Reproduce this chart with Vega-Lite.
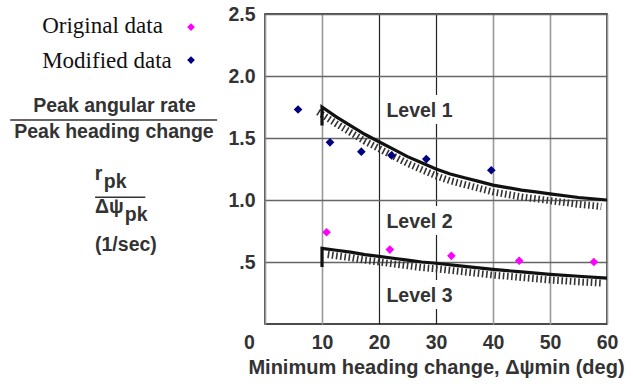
{
  "$schema": "https://vega.github.io/schema/vega-lite/v6.json",
  "width": 342,
  "height": 310,
  "autosize": {"type": "none"},
  "padding": {"left": 265, "top": 14, "right": 26, "bottom": 68},
  "background": "white",
  "config": {
    "view": {"stroke": "#111", "strokeWidth": 1.5},
    "font": "Liberation Sans"
  },
  "datasets": {
    "points": [
      {"series": "Modified data", "x": 5.8, "y": 1.73},
      {"series": "Modified data", "x": 11.4, "y": 1.465},
      {"series": "Modified data", "x": 16.9, "y": 1.39},
      {"series": "Modified data", "x": 22.2, "y": 1.36},
      {"series": "Modified data", "x": 28.3, "y": 1.33},
      {"series": "Modified data", "x": 39.7, "y": 1.24},
      {"series": "Original data", "x": 10.8, "y": 0.74},
      {"series": "Original data", "x": 21.9, "y": 0.60},
      {"series": "Original data", "x": 32.7, "y": 0.55},
      {"series": "Original data", "x": 44.6, "y": 0.51},
      {"series": "Original data", "x": 57.7, "y": 0.50}
    ],
    "key": [
      {"series": "Original data", "x": -12.98, "y": 2.395, "tx": -39.1, "ty": 2.347},
      {"series": "Modified data", "x": -12.98, "y": 2.129, "tx": -39.1, "ty": 2.065}
    ],
    "bounds": [
      {"b": "L1", "i": 0, "x": 10, "y": 1.6},
      {"b": "L1", "i": 1, "x": 10, "y": 1.75},
      {"b": "L1", "i": 2, "x": 12.5, "y": 1.67},
      {"b": "L1", "i": 3, "x": 15, "y": 1.6},
      {"b": "L1", "i": 4, "x": 17.5, "y": 1.53},
      {"b": "L1", "i": 5, "x": 20, "y": 1.47},
      {"b": "L1", "i": 6, "x": 22.5, "y": 1.41},
      {"b": "L1", "i": 7, "x": 25, "y": 1.35},
      {"b": "L1", "i": 8, "x": 27.5, "y": 1.3},
      {"b": "L1", "i": 9, "x": 30, "y": 1.25},
      {"b": "L1", "i": 10, "x": 32.5, "y": 1.21},
      {"b": "L1", "i": 11, "x": 35, "y": 1.18},
      {"b": "L1", "i": 12, "x": 37.5, "y": 1.15},
      {"b": "L1", "i": 13, "x": 40, "y": 1.12},
      {"b": "L1", "i": 14, "x": 42.5, "y": 1.1},
      {"b": "L1", "i": 15, "x": 45, "y": 1.08},
      {"b": "L1", "i": 16, "x": 47.5, "y": 1.065},
      {"b": "L1", "i": 17, "x": 50, "y": 1.05},
      {"b": "L1", "i": 18, "x": 55, "y": 1.02},
      {"b": "L1", "i": 19, "x": 60, "y": 1.0},
      {"b": "L2", "i": 0, "x": 10, "y": 0.46},
      {"b": "L2", "i": 1, "x": 10, "y": 0.61},
      {"b": "L2", "i": 2, "x": 12.5, "y": 0.595},
      {"b": "L2", "i": 3, "x": 15, "y": 0.58},
      {"b": "L2", "i": 4, "x": 17.5, "y": 0.56},
      {"b": "L2", "i": 5, "x": 20, "y": 0.545},
      {"b": "L2", "i": 6, "x": 22.5, "y": 0.53},
      {"b": "L2", "i": 7, "x": 25, "y": 0.515},
      {"b": "L2", "i": 8, "x": 27.5, "y": 0.5},
      {"b": "L2", "i": 9, "x": 30, "y": 0.49},
      {"b": "L2", "i": 10, "x": 35, "y": 0.465},
      {"b": "L2", "i": 11, "x": 40, "y": 0.44},
      {"b": "L2", "i": 12, "x": 45, "y": 0.42},
      {"b": "L2", "i": 13, "x": 50, "y": 0.4},
      {"b": "L2", "i": 14, "x": 55, "y": 0.385},
      {"b": "L2", "i": 15, "x": 60, "y": 0.37}
    ],
    "hatch": [
      {"b": "H1", "x": 9.3, "y": 1.71},
      {"b": "H1", "x": 10, "y": 1.69},
      {"b": "H1", "x": 12.5, "y": 1.615},
      {"b": "H1", "x": 15, "y": 1.545},
      {"b": "H1", "x": 17.5, "y": 1.475},
      {"b": "H1", "x": 20, "y": 1.415},
      {"b": "H1", "x": 22.5, "y": 1.355},
      {"b": "H1", "x": 25, "y": 1.295},
      {"b": "H1", "x": 27.5, "y": 1.245},
      {"b": "H1", "x": 30, "y": 1.195},
      {"b": "H1", "x": 32.5, "y": 1.155},
      {"b": "H1", "x": 35, "y": 1.125},
      {"b": "H1", "x": 37.5, "y": 1.095},
      {"b": "H1", "x": 40, "y": 1.065},
      {"b": "H1", "x": 42.5, "y": 1.045},
      {"b": "H1", "x": 45, "y": 1.025},
      {"b": "H1", "x": 47.5, "y": 1.01},
      {"b": "H1", "x": 50, "y": 0.995},
      {"b": "H1", "x": 55, "y": 0.965},
      {"b": "H1", "x": 59, "y": 0.948},
      {"b": "H2", "x": 11, "y": 0.56},
      {"b": "H2", "x": 12.5, "y": 0.55},
      {"b": "H2", "x": 15, "y": 0.535},
      {"b": "H2", "x": 17.5, "y": 0.515},
      {"b": "H2", "x": 20, "y": 0.5},
      {"b": "H2", "x": 22.5, "y": 0.485},
      {"b": "H2", "x": 25, "y": 0.47},
      {"b": "H2", "x": 27.5, "y": 0.455},
      {"b": "H2", "x": 30, "y": 0.445},
      {"b": "H2", "x": 35, "y": 0.42},
      {"b": "H2", "x": 40, "y": 0.395},
      {"b": "H2", "x": 45, "y": 0.375},
      {"b": "H2", "x": 50, "y": 0.355},
      {"b": "H2", "x": 55, "y": 0.34},
      {"b": "H2", "x": 59, "y": 0.33}
    ],
    "levels": [
      {"x": 27.1, "y": 1.667, "label": "Level 1"},
      {"x": 27.1, "y": 0.772, "label": "Level 2"},
      {"x": 27.1, "y": 0.18, "label": "Level 3"}
    ],
    "side": [
      {"x": -26.4, "y": 1.71, "label": "Peak angular rate"},
      {"x": -26.5, "y": 1.5, "label": "Peak heading change"},
      {"x": -29.2, "y": 1.161, "label": "r"},
      {"x": -26.3, "y": 1.097, "label": "pk"},
      {"x": -27.3, "y": 0.895, "label": "Δψ"},
      {"x": -22.6, "y": 0.827, "label": "pk"},
      {"x": -24.4, "y": 0.589, "label": "(1/sec)"}
    ],
    "bars": [
      {"x": -44.7, "x2": -8.4, "y": 1.645},
      {"x": -29.8, "x2": -21.0, "y": 1.022}
    ]
  },
  "encoding": {
    "x": {
      "field": "x",
      "type": "quantitative",
      "scale": {"domain": [0, 60], "nice": false, "zero": false},
      "axis": {
        "values": [0, 10, 20, 30, 40, 50, 60],
        "title": "Minimum heading change, Δψmin (deg)",
        "titleFont": "Liberation Sans",
        "titleFontSize": 20,
        "titleFontWeight": "bold",
        "titleColor": "#333",
        "titlePadding": 6,
        "labelFont": "Liberation Sans",
        "labelFontSize": 19.5,
        "labelFontWeight": "bold",
        "labelColor": "#333",
        "labelPadding": 9,
        "labelFlush": false,
        "labelOffset": {"condition": {"test": "datum.value === 0", "value": -16}, "value": 0},
        "ticks": false,
        "tickSize": 0,
        "domain": false,
        "grid": true,
        "gridColor": {"condition": {"test": "datum.value === 20 || datum.value === 30", "value": "#222"}, "value": "#999"},
        "gridWidth": {"condition": {"test": "datum.value === 20 || datum.value === 30", "value": 1.2}, "value": 1.6},
        "gridOpacity": 1
      }
    },
    "y": {
      "field": "y",
      "type": "quantitative",
      "scale": {"domain": [0, 2.5], "nice": false, "zero": false},
      "axis": {
        "values": [0.5, 1, 1.5, 2, 2.5],
        "labelExpr": "datum.value === 0.5 ? '.5' : format(datum.value, '.1f')",
        "title": null,
        "labelFont": "Liberation Sans",
        "labelFontSize": 19.5,
        "labelFontWeight": "bold",
        "labelColor": "#333",
        "labelPadding": 10,
        "ticks": false,
        "tickSize": 0,
        "domain": false,
        "grid": true,
        "gridColor": "#666",
        "gridWidth": 1.4,
        "gridOpacity": 1
      }
    }
  },
  "layer": [
    {
      "data": {"name": "bars"},
      "mark": {"type": "rule", "color": "#333", "strokeWidth": 1.5, "clip": false},
      "encoding": {"x2": {"field": "x2"}}
    },
    {
      "data": {"name": "side"},
      "mark": {"type": "text", "font": "Liberation Sans", "fontSize": 19.5, "fontWeight": "bold", "color": "#333", "align": "center", "baseline": "alphabetic", "clip": false},
      "encoding": {"text": {"field": "label"}}
    },
    {
      "data": {"name": "key"},
      "mark": {"type": "text", "font": "Liberation Serif", "fontSize": 23, "color": "#111", "align": "left", "baseline": "alphabetic", "clip": false},
      "encoding": {
        "x": {"field": "tx", "type": "quantitative"},
        "y": {"field": "ty", "type": "quantitative"},
        "text": {"field": "series"}
      }
    },
    {
      "data": {"name": "levels"},
      "mark": {"type": "text", "font": "Liberation Sans", "fontSize": 19.5, "fontWeight": "bold", "color": "white", "stroke": "white", "strokeWidth": 14, "align": "center", "baseline": "alphabetic"},
      "encoding": {"text": {"field": "label"}}
    },
    {
      "data": {"name": "levels"},
      "mark": {"type": "text", "font": "Liberation Sans", "fontSize": 19.5, "fontWeight": "bold", "color": "#333", "align": "center", "baseline": "alphabetic"},
      "encoding": {"text": {"field": "label"}}
    },
    {
      "data": {"name": "hatch"},
      "mark": {"type": "line", "color": "#333", "strokeWidth": 7, "strokeDash": [1.6, 2.6], "strokeCap": "butt"},
      "encoding": {"detail": {"field": "b"}}
    },
    {
      "data": {"name": "bounds"},
      "mark": {"type": "line", "color": "#111", "strokeWidth": 3.2, "strokeJoin": "miter"},
      "encoding": {"detail": {"field": "b"}, "order": {"field": "i", "type": "quantitative"}}
    },
    {
      "data": {"name": "key"},
      "mark": {"type": "point", "shape": "diamond", "filled": true, "size": 60, "opacity": 1, "clip": false},
      "encoding": {
        "color": {"field": "series", "type": "nominal", "legend": null}
      }
    },
    {
      "data": {"name": "points"},
      "mark": {"type": "point", "shape": "diamond", "filled": true, "size": 75, "opacity": 1},
      "encoding": {
        "color": {
          "field": "series",
          "type": "nominal",
          "scale": {"domain": ["Original data", "Modified data"], "range": ["#ff00ff", "#000080"]},
          "legend": null
        }
      }
    }
  ]
}
